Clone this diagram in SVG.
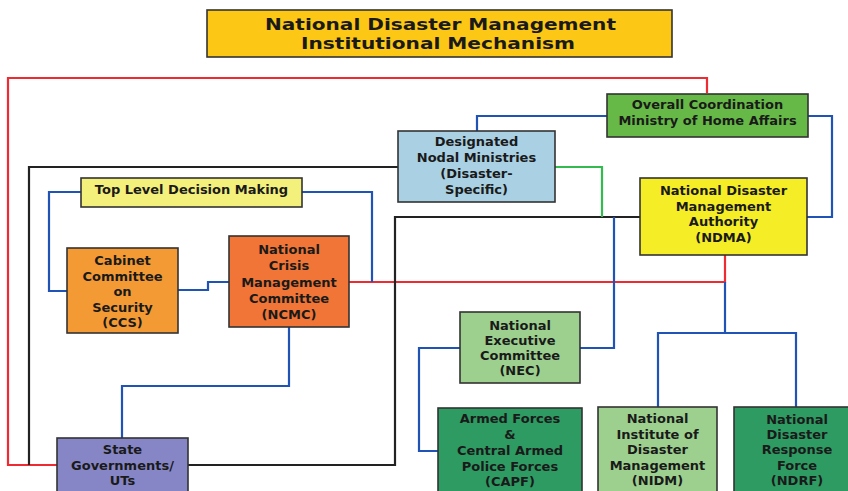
<svg xmlns="http://www.w3.org/2000/svg" width="848" height="491" viewBox="0 0 848 491">
<style>
.box{stroke:#333;stroke-width:1.6}
.t{font-family:"DejaVu Sans","Liberation Sans",sans-serif;font-weight:bold;font-size:13px;fill:#1a1a1a;text-anchor:middle}
.title{font-size:15.5px}
.c{fill:none;stroke-width:2.2;stroke-linejoin:miter}
.red{stroke:#EE2B33}
.blue{stroke:#1F53B5}
.green{stroke:#33BB4F}
.black{stroke:#222}
</style>
<rect width="848" height="491" fill="#fff"/>
<g id="connectors">
<polyline class="c red" points="707,93 707,78 8,78 8,465 57,465"/>
<polyline class="c red" points="725,255 725,282 349,282"/>
<polyline class="c black" points="398,167 29,167 29,465"/>
<polyline class="c black" points="640,217 395,217 395,465 188,465"/>
<polyline class="c green" points="555,167 602,167 602,217"/>
<polyline class="c blue" points="607,116 477,116 477,131"/>
<polyline class="c blue" points="808,116 832,116 832,217 807,217"/>
<polyline class="c blue" points="614,217 614,348 580,348"/>
<polyline class="c blue" points="460,348 419,348 419,451 438,451"/>
<polyline class="c blue" points="725,282 725,333"/>
<polyline class="c blue" points="658,407 658,333 796,333 796,407"/>
<polyline class="c blue" points="81,192 49,192 49,291 67,291"/>
<polyline class="c blue" points="302,192 372,192 372,282"/>
<polyline class="c blue" points="178,290 208,290 208,282 229,282"/>
<polyline class="c blue" points="289,327 289,386 122,386 122,438"/>
</g>
<g id="title">
<rect class="box" x="207" y="10" width="465" height="47" fill="#FCC815"/>
<text class="t title" x="440.5" y="30" textLength="351" lengthAdjust="spacingAndGlyphs">National Disaster Management</text>
<text class="t title" x="438" y="49" textLength="274" lengthAdjust="spacingAndGlyphs">Institutional Mechanism</text>
</g>
<g id="mha">
<rect class="box" x="607" y="94" width="201" height="43" fill="#66B947"/>
<text class="t" x="707.5" y="109">Overall Coordination</text>
<text class="t" x="707.5" y="125">Ministry of Home Affairs</text>
</g>
<g id="nodal">
<rect class="box" x="398" y="131" width="157" height="71" fill="#A9D0E3"/>
<text class="t" x="476.5" y="146">Designated</text>
<text class="t" x="476.5" y="162">Nodal Ministries</text>
<text class="t" x="476.5" y="178">(Disaster-</text>
<text class="t" x="476.5" y="194">Specific)</text>
</g>
<g id="ndma">
<rect class="box" x="640" y="178" width="167" height="77" fill="#F5EE26"/>
<text class="t" x="723.5" y="195">National Disaster</text>
<text class="t" x="723.5" y="211">Management</text>
<text class="t" x="723.5" y="226">Authority</text>
<text class="t" x="723.5" y="242">(NDMA)</text>
</g>
<g id="toplevel">
<rect class="box" x="81" y="178" width="221" height="29" fill="#F4F07C"/>
<text class="t" x="191.5" y="194">Top Level Decision Making</text>
</g>
<g id="ccs">
<rect class="box" x="67" y="248" width="111" height="85" fill="#F49A35"/>
<text class="t" x="122.5" y="265">Cabinet</text>
<text class="t" x="122.5" y="281">Committee</text>
<text class="t" x="122.5" y="296">on</text>
<text class="t" x="122.5" y="312">Security</text>
<text class="t" x="122.5" y="327">(CCS)</text>
</g>
<g id="ncmc">
<rect class="box" x="229" y="236" width="120" height="91" fill="#F07536"/>
<text class="t" x="289" y="254">National</text>
<text class="t" x="289" y="270">Crisis</text>
<text class="t" x="289" y="287">Management</text>
<text class="t" x="289" y="303">Committee</text>
<text class="t" x="289" y="319">(NCMC)</text>
</g>
<g id="state">
<rect class="box" x="57" y="438" width="131" height="62" fill="#8686C6"/>
<text class="t" x="122.5" y="454">State</text>
<text class="t" x="122.5" y="470">Governments/</text>
<text class="t" x="122.5" y="485">UTs</text>
</g>
<g id="nec">
<rect class="box" x="460" y="312" width="120" height="71" fill="#9DD08F"/>
<text class="t" x="520" y="330">National</text>
<text class="t" x="520" y="345">Executive</text>
<text class="t" x="520" y="360">Committee</text>
<text class="t" x="520" y="375">(NEC)</text>
</g>
<g id="capf">
<rect class="box" x="438" y="408" width="144" height="92" fill="#2E9B63"/>
<text class="t" x="510" y="423">Armed Forces</text>
<text class="t" x="510" y="439">&amp;</text>
<text class="t" x="510" y="455">Central Armed</text>
<text class="t" x="510" y="471">Police Forces</text>
<text class="t" x="510" y="486">(CAPF)</text>
</g>
<g id="nidm">
<rect class="box" x="598" y="407" width="119" height="93" fill="#9DD08F"/>
<text class="t" x="657.5" y="423">National</text>
<text class="t" x="657.5" y="439">Institute of</text>
<text class="t" x="657.5" y="454">Disaster</text>
<text class="t" x="657.5" y="470">Management</text>
<text class="t" x="657.5" y="485">(NIDM)</text>
</g>
<g id="ndrf">
<rect class="box" x="734" y="407" width="126" height="93" fill="#2E9B63"/>
<text class="t" x="797" y="424">National</text>
<text class="t" x="797" y="439">Disaster</text>
<text class="t" x="797" y="454">Response</text>
<text class="t" x="797" y="470">Force</text>
<text class="t" x="797" y="485">(NDRF)</text>
</g>
</svg>
